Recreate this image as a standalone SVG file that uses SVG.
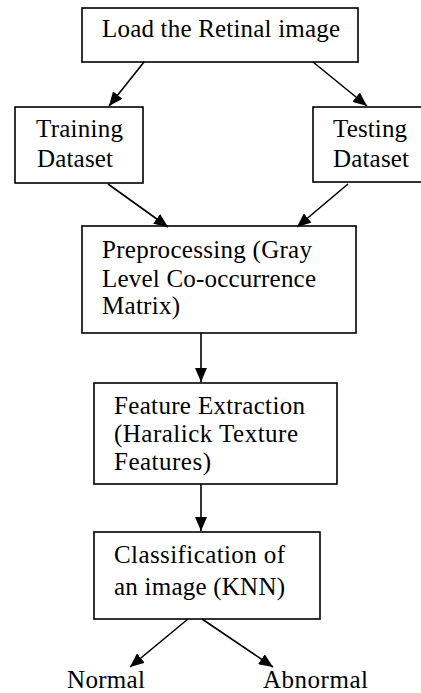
<svg xmlns="http://www.w3.org/2000/svg" width="421" height="693" viewBox="0 0 421 693">
<defs>
<marker id="ah" viewBox="0 0 14 12" refX="14" refY="6" markerWidth="14" markerHeight="12" markerUnits="userSpaceOnUse" orient="auto">
<path d="M0,0 L14,6 L0,12 Z" fill="#000"/>
</marker>
</defs>
<style>
.box{fill:#fff;stroke:#000;stroke-width:1.6}
.t{font-family:"Liberation Serif","Times New Roman",serif;font-size:25px;fill:#000}
.c{stroke:#000;stroke-width:1.6;fill:none;marker-end:url(#ah)}
</style>
<rect width="421" height="693" fill="#fff"/>
<g id="load">
<rect class="box" x="82" y="8" width="276" height="54"/>
<text class="t" x="102" y="37" textLength="238" lengthAdjust="spacing">Load the Retinal image</text>
</g>
<g id="training">
<rect class="box" x="15" y="107" width="128" height="76"/>
<text class="t" x="36" y="137" textLength="87" lengthAdjust="spacing">Training</text>
<text class="t" x="37" y="167" textLength="76" lengthAdjust="spacing">Dataset</text>
</g>
<g id="testing">
<rect class="box" x="313" y="107" width="115" height="75"/>
<text class="t" x="333" y="137" textLength="74" lengthAdjust="spacing">Testing</text>
<text class="t" x="333" y="167" textLength="76" lengthAdjust="spacing">Dataset</text>
</g>
<g id="preprocessing">
<rect class="box" x="82" y="226" width="274" height="107"/>
<text class="t" x="102" y="258" textLength="210" lengthAdjust="spacing">Preprocessing (Gray</text>
<text class="t" x="102" y="287" textLength="214" lengthAdjust="spacing">Level Co-occurrence</text>
<text class="t" x="102" y="314" textLength="78" lengthAdjust="spacing">Matrix)</text>
</g>
<g id="feature">
<rect class="box" x="94" y="383" width="243" height="101"/>
<text class="t" x="114" y="414" textLength="191" lengthAdjust="spacing">Feature Extraction</text>
<text class="t" x="114" y="442" textLength="184" lengthAdjust="spacing">(Haralick Texture</text>
<text class="t" x="114" y="470" textLength="97" lengthAdjust="spacing">Features)</text>
</g>
<g id="classification">
<rect class="box" x="94" y="532" width="226" height="87"/>
<text class="t" x="114" y="563" textLength="171" lengthAdjust="spacing">Classification of</text>
<text class="t" x="114" y="595" textLength="171" lengthAdjust="spacing">an image (KNN)</text>
</g>
<g id="normal">
<text class="t" x="67" y="688" textLength="78" lengthAdjust="spacing">Normal</text>
</g>
<g id="abnormal">
<text class="t" x="263" y="688" textLength="105" lengthAdjust="spacing">Abnormal</text>
</g>
<g id="connectors">
<line class="c" x1="144" y1="62" x2="109" y2="106"/>
<line class="c" x1="313" y1="62" x2="367" y2="106"/>
<line class="c" x1="108" y1="184" x2="168" y2="227"/>
<line class="c" x1="348" y1="184" x2="297" y2="227"/>
<line class="c" x1="201" y1="333" x2="201" y2="382"/>
<line class="c" x1="201" y1="484" x2="201" y2="531"/>
<line class="c" x1="188" y1="619" x2="130" y2="667"/>
<line class="c" x1="202" y1="619" x2="273" y2="667"/>
</g>
</svg>
